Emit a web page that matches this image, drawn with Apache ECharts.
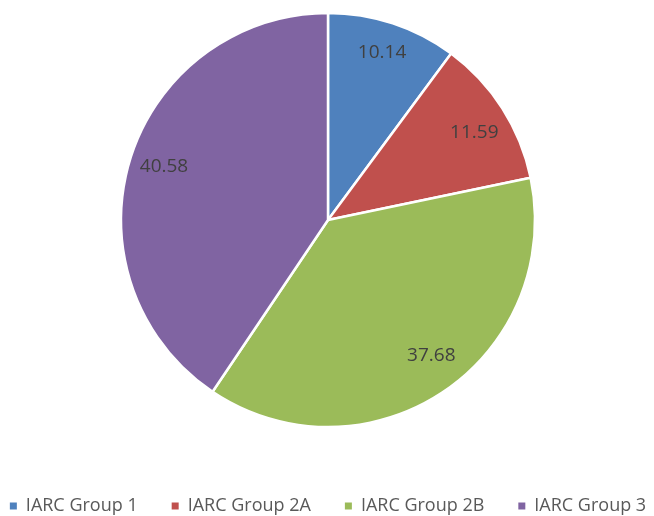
<!DOCTYPE html>
<html>
<head>
<meta charset="utf-8">
<script src="https://cdn.jsdelivr.net/npm/echarts@6/dist/echarts.min.js"></script>
<style>html,body{margin:0;padding:0;background:#fff;}#c{width:654px;height:516px;}</style>
</head>
<body>
<div id="c"></div>
<script>
const categories = ['IARC Group 1', 'IARC Group 2A', 'IARC Group 2B', 'IARC Group 3'];
const values = [10.14, 11.59, 37.68, 40.58];
const colors = ['#4F81BD', '#C0504D', '#9BBB59', '#8064A2'];

const labelOffsets = [[0, -4], [1, 6], [7, -8], [1, -3]];

const chart = echarts.init(document.getElementById('c'));
const data = categories.map((n, i) => ({ name: n, value: values[i], itemStyle: { color: colors[i] } }));
const labelData = categories.map((n, i) => ({
  name: n, value: values[i],
  label: { offset: labelOffsets[i] }
}));
chart.setOption({
  animation: false,
  legend: {
    top: 497,
    left: 'center',
    padding: 0,
    icon: 'rect',
    itemWidth: 9,
    itemHeight: 9,
    itemGap: 32,
    textStyle: { fontFamily: 'Open Sans', fontSize: 18, color: '#595959', padding: [0, 0, 0, 3] },
    data: categories
  },
  series: [
    {
      type: 'pie',
      center: [328, 220],
      radius: [0, 207],
      startAngle: 90,
      clockwise: true,
      label: { show: false },
      labelLine: { show: false },
      itemStyle: { borderColor: '#fff', borderWidth: 2.5 },
      emphasis: { disabled: true },
      data: data
    },
    {
      type: 'pie',
      center: [328, 220],
      radius: [132, 207],
      startAngle: 90,
      clockwise: true,
      silent: true,
      legendHoverLink: false,
      itemStyle: { color: 'transparent' },
      label: { show: true, position: 'inside', formatter: '{c}', fontFamily: 'Open Sans', fontSize: 19, color: '#404040' },
      labelLine: { show: false },
      emphasis: { disabled: true },
      data: labelData
    }
  ]
});
</script>
</body>
</html>
